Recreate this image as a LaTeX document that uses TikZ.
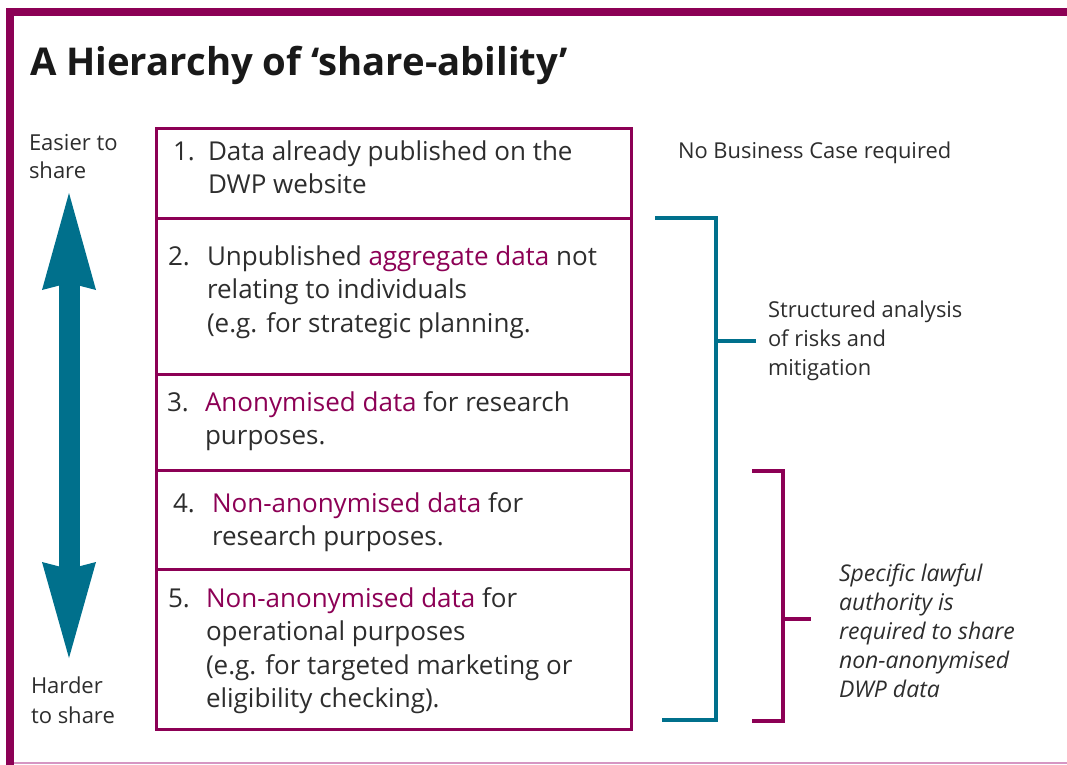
\documentclass[tikz,border=0pt]{standalone}
\usepackage{fontspec}
\setmainfont{Open Sans}
\usepackage{xcolor}
\usetikzlibrary{arrows.meta, positioning}

\definecolor{dwppurple}{RGB}{140,0,85}
\definecolor{dwpteal}{RGB}{0,112,140}
\definecolor{dwppink}{RGB}{214,150,195}
\definecolor{dwptext}{RGB}{45,45,45}
\newcommand{\hl}[1]{\textcolor{dwppurple}{#1}}

\begin{document}
\begin{tikzpicture}[x=1bp,y=-1bp,inner sep=0pt,outer sep=0pt]
  \tikzstyle{rowbox}=[draw=dwppurple,line width=3bp,anchor=north west,minimum width=475bp]
  % base anchor = baseline of the last line
  \tikzstyle{rowtext}=[anchor=base west,align=left,text=dwptext,font=\fontsize{26bp}{33.5bp}\selectfont]
  \tikzstyle{sidetext}=[anchor=base west,align=left,text=dwptext,font=\fontsize{21.9bp}{29bp}\selectfont]
  \tikzstyle{bracket}=[line width=4.5bp]

  \useasboundingbox (0,0) rectangle (1067,765);

  % frame
  \fill[dwppurple] (6,8) rectangle (1067,16);
  \fill[dwppurple] (6,8) rectangle (14,765);
  \draw[dwppink,line width=1.5bp] (14,763) -- (1067,763);

  \node[anchor=base west,text=black!90,font=\fontsize{38.3bp}{40bp}\selectfont\bfseries] (title) at (30,76) {A Hierarchy of ‘share-ability’};

  % the five levels
  \node[rowbox,minimum height=90bp] (row_1) at (156,128) {};
  \node[rowbox,minimum height=156bp,below=0pt of row_1] (row_2) {};
  \node[rowbox,minimum height=96bp,below=0pt of row_2] (row_3) {};
  \node[rowbox,minimum height=99bp,below=0pt of row_3] (row_4) {};
  \node[rowbox,minimum height=160bp,below=0pt of row_4] (row_5) {};

  \node[rowtext] (num_1) at (173,160) {1.};
  \node[rowtext] (txt_1) at (208,193.5) {Data already published on the\\DWP website};
  \node[rowtext] (num_2) at (168,265) {2.};
  \node[rowtext] (txt_2) at (207,332) {Unpublished \hl{aggregate data} not\\relating to individuals\\(e.g. for strategic planning.};
  \node[rowtext] (num_3) at (167,411) {3.};
  \node[rowtext] (txt_3) at (205,444.5) {\hl{Anonymised data} for research\\purposes.};
  \node[rowtext] (num_4) at (173,512) {4.};
  \node[rowtext] (txt_4) at (212,545.5) {\hl{Non-anonymised data} for\\research purposes.};
  \node[rowtext] (num_5) at (168,607) {5.};
  \node[rowtext] (txt_5) at (206,707.5) {\hl{Non-anonymised data} for\\operational purposes\\(e.g. for targeted marketing or\\eligibility checking).};

  % easier / harder
  \node[sidetext,font=\fontsize{22bp}{28bp}\selectfont] (easier) at (29,178) {Easier to\\share};
  \node[sidetext,font=\fontsize{22bp}{30bp}\selectfont] (harder) at (31,723) {Harder\\to share};
  \coordinate (arr_top) at (69,193);
  \coordinate (arr_bot) at (69,658);
  \draw[dwpteal,line width=21bp,{Stealth[length=97bp,width=54bp,inset=7bp,line width=0pt]}-{Stealth[length=96bp,width=54bp,inset=7bp,line width=0pt]}] (arr_top) -- (arr_bot);

  % right hand notes
  \node[sidetext] (nobc) at (678,158) {No Business Case required};
  \node[sidetext] (risks) at (768,375) {Structured analysis\\of risks and\\mitigation};
  \node[sidetext,font=\fontsize{23bp}{29bp}\selectfont\itshape] (lawful) at (839,697) {Specific lawful\\authority is\\required to share\\non-anonymised\\DWP data};

  \draw[dwpteal,bracket] (655,218) -- (716,218) -- (716,720) -- (662,720)
    (716,341) -- (756,341);
  \draw[dwppurple,bracket] (752,471) -- (783,471) -- (783,721) -- (752,721)
    (783,619) -- (811,619);
\end{tikzpicture}
\end{document}
